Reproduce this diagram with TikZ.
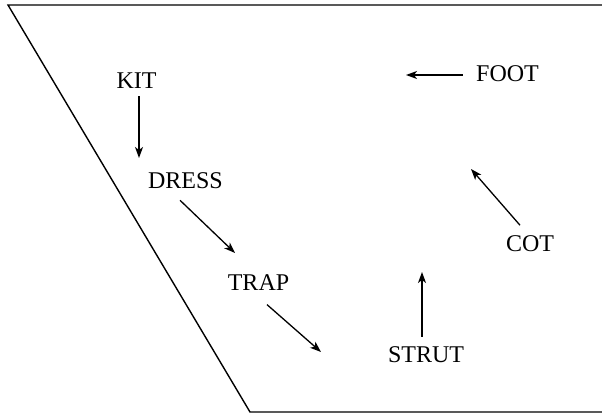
\documentclass[tikz,border=0pt]{standalone}
\usepackage{fontspec}
\setmainfont{Liberation Serif}
\usetikzlibrary{arrows.meta}
\begin{document}
\begin{tikzpicture}[x=1pt,y=-1pt,
  lbl/.style={inner sep=3pt,font=\fontsize{24}{28}\selectfont},
  arr/.style={line width=1.3pt,-{Stealth[length=11pt,width=8pt,inset=3pt]}},
  frame/.style={line width=1.4pt}]
\useasboundingbox (0,0) rectangle (602,414);
\draw[frame] (603,5) -- (8,5) -- (250,412) -- (603,412);
\node[lbl] (KIT) at (136.5,81) {KIT};
\node[lbl] (DRESS) at (185.5,181) {DRESS};
\node[lbl] (TRAP) at (258.5,282.5) {TRAP};
\node[lbl] (STRUT) at (426,355) {STRUT};
\node[lbl] (COT) at (530,243.5) {COT};
\node[lbl] (FOOT) at (507.5,73.5) {FOOT};
\coordinate (kitend) at (139,158);
\coordinate (dressend) at (235,253);
\coordinate (trapend) at (321,352);
\coordinate (strutend) at (422,272);
\coordinate (cotend) at (471,169);
\coordinate (footend) at (406,75);
\draw[arr] ([xshift=2.5pt,yshift=-4pt]KIT.south) -- (kitend);
\draw[arr] ([xshift=-5.5pt,yshift=-8pt]DRESS.south) -- (dressend);
\draw[arr] ([xshift=8.5pt,yshift=-11pt]TRAP.south) -- (trapend);
\draw[arr] ([xshift=-4pt,yshift=7pt]STRUT.north) -- (strutend);
\draw[arr] ([xshift=-10pt,yshift=7pt]COT.north) -- (cotend);
\draw[arr] ([xshift=-10pt,yshift=-1.5pt]FOOT.west) -- (footend);
\end{tikzpicture}
\end{document}
